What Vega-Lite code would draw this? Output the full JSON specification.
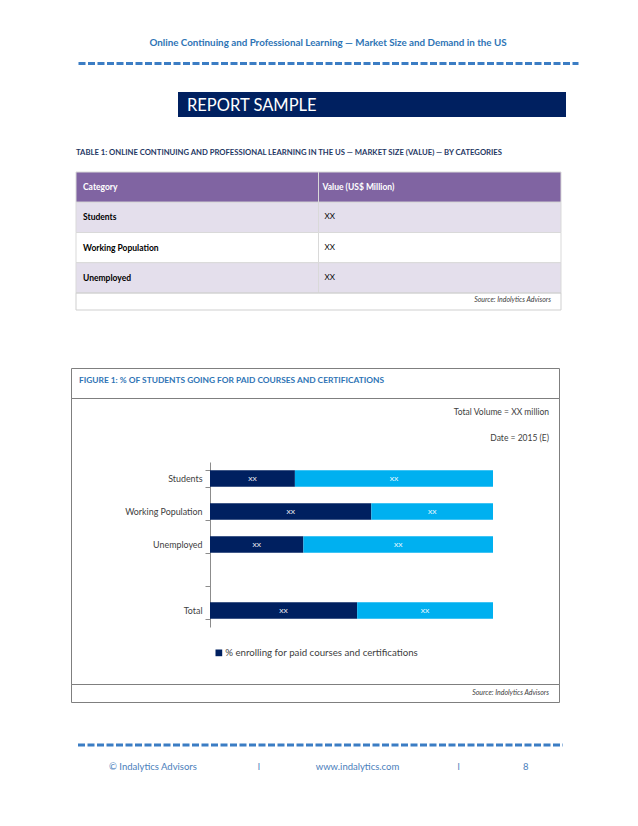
{
  "$schema": "https://vega.github.io/schema/vega-lite/v6.json",
  "padding": {"left": 70, "top": 0, "right": 0, "bottom": 0},
  "background": "white",
  "spacing": 0,
  "bounds": "flush",
  "resolve": {"scale": {"color": "independent"}, "legend": {"color": "independent"}},
  "config": {"view": {"stroke": null}, "font": "Lato"},
  "vconcat": [
    {
      "width": 510,
      "height": 63,
      "data": {"values": [{"t": "Online Continuing  and Professional Learning — Market Size and Demand in the US"}]},
      "mark": {"type": "text", "fontSize": 9.8, "fontWeight": "bold", "color": "#2E74B5", "baseline": "middle", "dy": 11.5},
      "encoding": {
        "text": {"field": "t"},
        "x": {"datum": 0.5, "type": "quantitative", "scale": {"domain": [0, 1], "range": [7, 507]},
          "axis": {"orient": "bottom", "domain": true, "domainColor": "#3B7DC4", "domainWidth": 3, "domainDash": [7, 2.5], "ticks": false, "labels": false, "grid": false, "title": null}}
      }
    },
    {
      "width": 510,
      "height": 109,
      "data": {"values": [{"t": "REPORT SAMPLE"}]},
      "encoding": {
        "x": {"datum": 0, "type": "quantitative", "scale": {"domain": [0, 1], "range": [107, 495]}, "axis": null},
        "y": {"datum": 0, "type": "quantitative", "scale": {"domain": [0, 1], "range": [29, 54]}, "axis": null}
      },
      "layer": [
        {"mark": {"type": "rect", "color": "#002060"}, "encoding": {"x2": {"datum": 1}, "y2": {"datum": 1}}},
        {"mark": {"type": "text", "align": "left", "baseline": "middle", "dx": 9, "dy": 1, "fontSize": 16.5, "color": "white"},
          "encoding": {"text": {"field": "t"}, "y": {"datum": 0.5, "type": "quantitative"}}}
      ]
    },
    {
      "width": 490,
      "height": 121,
      "title": {"text": "TABLE 1: ONLINE CONTINUING AND PROFESSIONAL LEARNING IN THE US — MARKET SIZE (VALUE) — BY CATEGORIES",
        "anchor": "start", "orient": "top", "frame": "group", "offset": 15, "dx": 5, "fontSize": 7.7, "fontWeight": "bold", "color": "#1F3864"},
      "data": {"values": [
        {"row": "Category", "value": "Value (US$ Million)"},
        {"row": "Students", "value": "XX"},
        {"row": "Working Population", "value": "XX"},
        {"row": "Unemployed", "value": "XX"}
      ]},
      "encoding": {
        "y": {"field": "row", "type": "nominal", "scale": {"domain": ["Category", "Students", "Working Population", "Unemployed"], "range": [0, 121], "paddingInner": 0, "paddingOuter": 0}, "axis": null},
        "x": {"datum": 0, "type": "quantitative", "scale": {"domain": [0, 1], "range": [5, 490]}, "axis": null}
      },
      "layer": [
        {"mark": {"type": "rect", "stroke": "#D9D9D9", "strokeWidth": 1},
          "encoding": {"x2": {"datum": 0.5},
            "color": {"field": "row", "type": "nominal", "scale": {"domain": ["Category", "Students", "Working Population", "Unemployed"], "range": ["#8064A2", "#E4DFEC", "#FFFFFF", "#E4DFEC"]}, "legend": null}}},
        {"mark": {"type": "rect", "stroke": "#D9D9D9", "strokeWidth": 1},
          "encoding": {"x": {"datum": 0.5, "type": "quantitative"}, "x2": {"datum": 1},
            "color": {"field": "row", "type": "nominal", "legend": null}}},
        {"transform": [{"filter": "datum.row === 'Category'"}],
          "mark": {"type": "text", "align": "left", "baseline": "middle", "dx": 7, "fontSize": 8.5, "fontWeight": "bold", "color": "white"},
          "encoding": {"text": {"field": "row"}}},
        {"transform": [{"filter": "datum.row === 'Category'"}],
          "mark": {"type": "text", "align": "left", "baseline": "middle", "dx": 4, "fontSize": 8.5, "fontWeight": "bold", "color": "white"},
          "encoding": {"text": {"field": "value"}, "x": {"datum": 0.5, "type": "quantitative"}}},
        {"transform": [{"filter": "datum.row !== 'Category'"}],
          "mark": {"type": "text", "align": "left", "baseline": "middle", "dx": 7, "fontSize": 8.5, "fontWeight": "bold", "color": "black"},
          "encoding": {"text": {"field": "row"}}},
        {"transform": [{"filter": "datum.row !== 'Category'"}],
          "mark": {"type": "text", "align": "left", "baseline": "middle", "dx": 6, "fontSize": 8, "color": "black"},
          "encoding": {"text": {"field": "value"}, "x": {"datum": 0.5, "type": "quantitative"}}}
      ]
    },
    {
      "width": 490,
      "height": 17,
      "data": {"values": [{"s": "Source: Indolytics Advisors"}]},
      "encoding": {"x": {"datum": 0, "type": "quantitative", "scale": {"domain": [0, 1], "range": [5, 490]}, "axis": null}},
      "layer": [
        {"mark": {"type": "rect", "fill": "transparent", "stroke": "#CFCFCF", "strokeWidth": 1}, "encoding": {"x2": {"datum": 1}}},
        {"mark": {"type": "text", "align": "right", "baseline": "middle", "dx": -10, "dy": -2, "fontStyle": "italic", "fontSize": 7, "color": "#404040"},
          "encoding": {"text": {"field": "s"}, "x": {"datum": 1, "type": "quantitative"}}}
      ]
    },
    {
      "width": 10,
      "height": 58,
      "data": {"values": []},
      "mark": "text"
    },
    {
      "width": 488,
      "height": 30,
      "view": {"stroke": "#7F7F7F", "strokeWidth": 1},
      "data": {"values": [{"t": "FIGURE 1: % OF STUDENTS GOING FOR PAID COURSES AND CERTIFICATIONS"}]},
      "mark": {"type": "text", "align": "left", "baseline": "middle", "dx": 8, "dy": -3, "fontSize": 8.4, "fontWeight": "bold", "color": "#2E74B5"},
      "encoding": {
        "text": {"field": "t"},
        "x": {"datum": 0, "type": "quantitative", "scale": {"domain": [0, 1]}, "axis": null}
      }
    },
    {
      "width": 488,
      "height": 286,
      "view": {"stroke": "#7F7F7F", "strokeWidth": 1},
      "title": {"text": "Total Volume = XX million", "subtitle": "Date = 2015 (E)", "anchor": "end", "orient": "top", "frame": "group",
        "offset": -48, "dx": -10, "fontSize": 8.5, "fontWeight": "normal", "color": "#404040",
        "subtitleFontSize": 8.5, "subtitleColor": "#404040", "subtitlePadding": 17},
      "data": {"values": [
        {"cat": "Students", "series": "% enrolling for paid courses and certifications", "value": 30, "label": "XX"},
        {"cat": "Students", "series": "% not enrolling", "value": 70, "label": "XX"},
        {"cat": "Working Population", "series": "% enrolling for paid courses and certifications", "value": 57, "label": "XX"},
        {"cat": "Working Population", "series": "% not enrolling", "value": 43, "label": "XX"},
        {"cat": "Unemployed", "series": "% enrolling for paid courses and certifications", "value": 33, "label": "XX"},
        {"cat": "Unemployed", "series": "% not enrolling", "value": 67, "label": "XX"},
        {"cat": "Total", "series": "% enrolling for paid courses and certifications", "value": 52, "label": "XX"},
        {"cat": "Total", "series": "% not enrolling", "value": 48, "label": "XX"}
      ]},
      "encoding": {
        "y": {"field": "cat", "type": "nominal",
          "scale": {"domain": ["Students", "Working Population", "Unemployed", "", "Total"], "range": [64, 229], "paddingInner": 0.5, "paddingOuter": 0.25},
          "axis": {"orient": "left", "offset": -139, "tickBand": "extent", "tickSize": 5, "tickColor": "#8C8C8C", "domainColor": "#8C8C8C",
            "labelPadding": 3, "labelFontSize": 8.9, "labelColor": "#404040", "title": null, "grid": false}},
        "x": {"field": "value", "type": "quantitative", "stack": "zero", "scale": {"domain": [0, 100], "range": [139, 422]}, "axis": null},
        "order": {"field": "series", "sort": "ascending"}
      },
      "layer": [
        {"mark": {"type": "bar"},
          "encoding": {
            "color": {"field": "series", "type": "nominal",
              "scale": {"domain": ["% enrolling for paid courses and certifications", "% not enrolling"], "range": ["#002060", "#00B0F0"]},
              "legend": {"orient": "none", "legendX": 143, "legendY": 250, "values": ["% enrolling for paid courses and certifications"],
                "title": null, "symbolType": "square", "symbolSize": 45, "symbolStrokeWidth": 0, "labelFontSize": 9.7, "labelColor": "#404040", "labelLimit": 0, "padding": 0, "labelOffset": 1.5}}
          }},
        {"mark": {"type": "text", "color": "white", "fontSize": 6.5, "baseline": "middle"},
          "encoding": {
            "x": {"field": "value", "type": "quantitative", "stack": "zero", "bandPosition": 0.5},
            "detail": {"field": "series"},
            "text": {"field": "label"}
          }}
      ]
    },
    {
      "width": 488,
      "height": 18,
      "view": {"stroke": "#7F7F7F", "strokeWidth": 1},
      "data": {"values": [{"s": "Source: Indolytics Advisors"}]},
      "mark": {"type": "text", "align": "right", "baseline": "middle", "dx": -10, "fontStyle": "italic", "fontSize": 7, "color": "#404040"},
      "encoding": {
        "text": {"field": "s"},
        "x": {"datum": 1, "type": "quantitative", "scale": {"domain": [0, 1]}, "axis": null}
      }
    },
    {
      "width": 510,
      "height": 86,
      "data": {"values": [{"f": "© Indalytics Advisors\u00a0\u00a0\u00a0\u00a0\u00a0\u00a0\u00a0\u00a0\u00a0\u00a0\u00a0\u00a0\u00a0\u00a0\u00a0\u00a0\u00a0\u00a0\u00a0\u00a0\u00a0\u00a0\u00a0\u00a0\u00a0l\u00a0\u00a0\u00a0\u00a0\u00a0\u00a0\u00a0\u00a0\u00a0\u00a0\u00a0\u00a0\u00a0\u00a0\u00a0\u00a0\u00a0\u00a0\u00a0\u00a0\u00a0\u00a0\u00a0www.indalytics.com\u00a0\u00a0\u00a0\u00a0\u00a0\u00a0\u00a0\u00a0\u00a0\u00a0\u00a0\u00a0\u00a0\u00a0\u00a0\u00a0\u00a0\u00a0\u00a0\u00a0\u00a0\u00a0\u00a0\u00a0l\u00a0\u00a0\u00a0\u00a0\u00a0\u00a0\u00a0\u00a0\u00a0\u00a0\u00a0\u00a0\u00a0\u00a0\u00a0\u00a0\u00a0\u00a0\u00a0\u00a0\u00a0\u00a0\u00a0\u00a0\u00a0\u00a08"}]},
      "encoding": {"x": {"datum": 0, "type": "quantitative", "scale": {"domain": [0, 1], "range": [7, 492]}, "axis": null}},
      "layer": [
        {"mark": {"type": "rule", "strokeDash": [7, 2.5], "strokeWidth": 3, "color": "#3B7DC4"}, "encoding": {"x2": {"datum": 1}}},
        {"mark": {"type": "text", "align": "left", "baseline": "middle", "dx": 31, "dy": 22, "fontSize": 9.5, "color": "#4A7EBB"},
          "encoding": {"text": {"field": "f"}}}
      ]
    }
  ]
}
